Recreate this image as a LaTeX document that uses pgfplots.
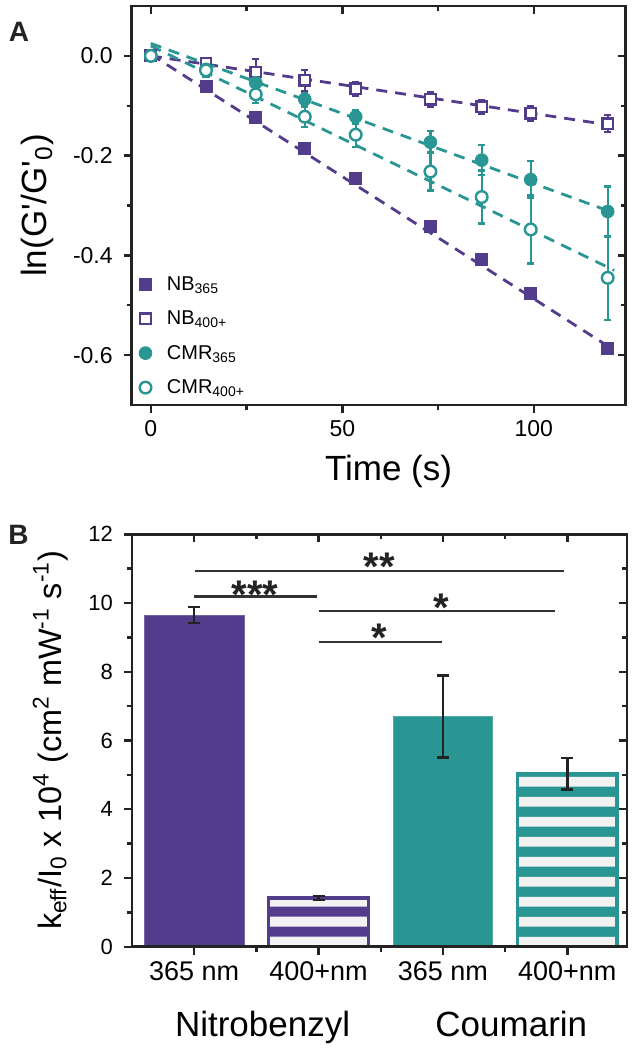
\documentclass[border=0pt]{standalone}
\usepackage{pgfplots}
\pgfplotsset{compat=1.18}
\usepackage{pgfplotstable}
\usepackage{fontspec}
\setmainfont{Liberation Sans}
\usetikzlibrary{patterns.meta}
\definecolor{nbp}{RGB}{84,60,140}
\definecolor{cmt}{RGB}{41,150,148}
\definecolor{axc}{RGB}{35,35,35}
\definecolor{stripe}{RGB}{242,242,242}
\definecolor{sig}{RGB}{50,50,50}

\tikzdeclarepattern{name=hstripes, type=uncolored,
  bottom left={(0pt,0pt)}, top right={(10pt,9.9pt)}, tile size={(10pt,9.9pt)},
  code={\fill (-1pt,2.15pt) rectangle (11pt,7.15pt);}}

% time (s), ln(G'/G'0), error
\pgfplotstableread{
x y e
0 0 0
14.4 -0.062 0.004
27.4 -0.124 0.004
40.2 -0.186 0.004
53.5 -0.246 0.004
73.0 -0.341 0.004
86.4 -0.408 0.004
99.2 -0.477 0.004
119.3 -0.587 0.004
}\nbA
\pgfplotstableread{
x y e
0 0 0
14.4 -0.014 0.010
27.4 -0.032 0.026
40.2 -0.049 0.021
53.5 -0.066 0.014
73.0 -0.087 0.015
86.4 -0.102 0.014
99.2 -0.115 0.015
119.3 -0.136 0.017
}\nbB
\pgfplotstableread{
x y e
0 0 0
14.4 -0.027 0.012
27.4 -0.054 0.012
40.2 -0.087 0.012
53.5 -0.122 0.014
73.0 -0.173 0.022
86.4 -0.209 0.030
99.2 -0.248 0.037
119.3 -0.312 0.050
}\cmA
\pgfplotstableread{
x y e
0 0 0
14.4 -0.029 0.012
27.4 -0.077 0.017
40.2 -0.122 0.020
53.5 -0.158 0.025
73.0 -0.232 0.038
86.4 -0.283 0.053
99.2 -0.348 0.068
119.3 -0.445 0.084
}\cmB
% bar chart: position, value, error
\pgfplotstableread{
x y e
1 9.65 0.23
}\barA
\pgfplotstableread{
x y e
2 1.42 0.06
}\barB
\pgfplotstableread{
x y e
3 6.70 1.19
}\barC
\pgfplotstableread{
x y e
4 5.03 0.46
}\barD

\pgfplotsset{
  common/.style={
    scale only axis,
    /pgf/number format/assume math mode=true,
    axis line style={line width=1.3pt, axc},
    tick style={line width=1.2pt, axc},
    major tick length=4pt, minor tick length=2.5pt,
  },
  inner/.style={common, xtick pos=right, ytick pos=right, tick align=inside,
    xticklabels={}, yticklabels={}},
  outer/.style={common, xtick pos=left, ytick pos=left, tick align=outside},
  fitline/.style={line width=1.4pt, dash pattern=on 5.5pt off 4pt, forget plot},
}

\begin{document}
\begin{tikzpicture}
\path[use as bounding box] (0,0) rectangle (318.5pt,-525pt);
% ---------------- panel A ----------------
\pgfplotsset{topax/.style={at={(65.85pt,-3pt)}, anchor=north west,
  width=247pt, height=199.5pt,
  xmin=-5, xmax=124, ymin=-0.7, ymax=0.1,
  xtick={0,50,100}, minor xtick={25,75},
  ytick={-0.6,-0.4,-0.2,0}, minor ytick={-0.5,-0.3,-0.1}}}
\begin{axis}[outer, topax,
  clip=false,
  tick label style={font=\fontsize{11.5}{13}\selectfont},
  yticklabel style={xshift=-2pt, /pgf/number format/.cd, fixed, fixed zerofill, precision=1},
  xlabel={Time (s)},
  xlabel style={font=\fontsize{17.5}{20}\selectfont, at={(axis description cs:0.52,-0.188)}, anchor=base},
  ylabel={ln(G\textquotesingle/G\textquotesingle\textsubscript{0})},
  ylabel style={font=\fontsize{17.5}{20}\selectfont, at={(axis description cs:-0.19,0.5)}, anchor=center},
  legend style={at={(axis description cs:0,0)}, anchor=south west, xshift=3.5pt, yshift=3pt,
    draw=none, fill=none, inner sep=0pt, row sep=6.25pt, column sep=6.5pt,
    font=\fontsize{10}{12}\selectfont,
    nodes={inner sep=1pt, text height=7.5pt, text depth=1.5pt}},
  legend cell align=left,
  legend image code/.code={\draw[mark repeat=2,mark phase=2,#1] plot coordinates {(0pt,0pt) (4pt,0pt) (8pt,0pt)};},
]
\addplot[nbp, fitline] coordinates {(0,0.003) (121,-0.59)};
\addplot[nbp, fitline] coordinates {(0,0.0) (121,-0.14)};
\addplot[cmt, fitline] coordinates {(0,0.025) (121,-0.315)};
\addplot[cmt, fitline] coordinates {(0,0.02) (121,-0.43)};
\addplot[only marks, nbp, mark=square*, mark size=3pt,
  error bars/.cd, y dir=both, y explicit,
  error bar style={line width=1.1pt, nbp},
  error mark options={rotate=90, mark size=1.8pt, line width=1.1pt, nbp}]
  table[x=x, y=y, y error=e] {\nbA};
\addlegendentry{NB\textsubscript{365}}
\addplot[only marks, nbp, mark=square*, mark size=2.6pt, mark options={fill=white, line width=1.1pt},
  error bars/.cd, y dir=both, y explicit,
  error bar style={line width=1.1pt, nbp},
  error mark options={rotate=90, mark size=1.8pt, line width=1.1pt, nbp}]
  table[x=x, y=y, y error=e] {\nbB};
\addlegendentry{NB\textsubscript{400+}}
\addplot[only marks, cmt, mark=*, mark size=3.2pt,
  error bars/.cd, y dir=both, y explicit,
  error bar style={line width=1.2pt, cmt},
  error mark options={rotate=90, mark size=1.8pt, line width=1.2pt, cmt}]
  table[x=x, y=y, y error=e] {\cmA};
\addlegendentry{CMR\textsubscript{365}}
\addplot[only marks, cmt, mark=*, mark size=2.9pt, mark options={fill=white, line width=1.2pt},
  error bars/.cd, y dir=both, y explicit,
  error bar style={line width=1.2pt, cmt},
  error mark options={rotate=90, mark size=1.8pt, line width=1.2pt, cmt}]
  table[x=x, y=y, y error=e] {\cmB};
\addlegendentry{CMR\textsubscript{400+}}
\end{axis}
\begin{axis}[inner, topax]
\end{axis}
% ---------------- panel B ----------------
\pgfplotsset{botax/.style={at={(66pt,-267.15pt)}, anchor=north west,
  width=247.5pt, height=206.2pt,
  xmin=0.5, xmax=4.48, ymin=0, ymax=12,
  xtick={1,2,3,4}, minor xtick={1.5,2.5,3.5},
  ytick={0,2,...,12}, minor ytick={1,3,...,11}}}
\begin{axis}[outer, botax,
  clip=false,
  xticklabels={365 nm, 400+nm, 365 nm, 400+nm},
  xticklabel style={font=\fontsize{13.5}{15}\selectfont},
  yticklabel style={font=\fontsize{11}{13}\selectfont, xshift=-2pt},
  ylabel={k\textsubscript{eff}/I\textsubscript{0} x 10\textsuperscript{4} (cm\textsuperscript{2} mW\textsuperscript{-1} s\textsuperscript{-1})},
  ylabel style={font=\fontsize{16.2}{18}\selectfont, at={(axis description cs:-0.165,0.5)}, anchor=center},
  ybar, bar width=0.8, bar shift=0pt,
]
\addplot[fill=nbp, draw=nbp!80!white, line width=0.4pt,
  error bars/.cd, y dir=both, y explicit,
  error bar style={line width=1.2pt, axc},
  error mark options={rotate=90, mark size=3pt, line width=1.2pt, axc}]
  table[x=x, y=y, y error=e] {\barA};
\addplot[draw=nbp, line width=1.6pt, preaction={fill=nbp}, pattern=hstripes, pattern color=stripe,
  error bars/.cd, y dir=both, y explicit,
  error bar style={line width=1.2pt, axc, solid},
  error mark options={rotate=90, mark size=3pt, line width=1.2pt, axc}]
  table[x=x, y=y, y error=e] {\barB};
\addplot[fill=cmt, draw=cmt!80!white, line width=0.4pt,
  error bars/.cd, y dir=both, y explicit,
  error bar style={line width=1.2pt, axc},
  error mark options={rotate=90, mark size=3pt, line width=1.2pt, axc}]
  table[x=x, y=y, y error=e] {\barC};
\addplot[draw=cmt, line width=1.6pt, preaction={fill=cmt}, pattern=hstripes, pattern color=stripe,
  error bars/.cd, y dir=both, y explicit,
  error bar style={line width=1.2pt, axc},
  error mark options={rotate=90, mark size=3pt, line width=1.2pt, axc}]
  table[x=x, y=y, y error=e] {\barD};
% significance brackets
\addplot[sharp plot, sig, line width=1.1pt, forget plot] coordinates {(1,10.19) (1.99,10.19)};
\addplot[sharp plot, sig, line width=1.1pt, forget plot] coordinates {(1.01,10.93) (3.97,10.93)};
\addplot[sharp plot, sig, line width=1.1pt, forget plot] coordinates {(2.0,9.77) (3.9,9.77)};
\addplot[sharp plot, sig, line width=1.1pt, forget plot] coordinates {(2.0,8.86) (2.99,8.86)};
\node[anchor=base, font=\fontsize{20}{20}\selectfont\bfseries, text=axc] at (axis cs:1.49,9.83) {***};
\node[anchor=base, font=\fontsize{20}{20}\selectfont\bfseries, text=axc] at (axis cs:2.49,10.66) {**};
\node[anchor=base, font=\fontsize{20}{20}\selectfont\bfseries, text=axc] at (axis cs:2.99,9.45) {*};
\node[anchor=base, font=\fontsize{20}{20}\selectfont\bfseries, text=axc] at (axis cs:2.49,8.60) {*};
\node[anchor=base, font=\fontsize{17.5}{20}\selectfont, yshift=-45pt] at (axis cs:1.55,0) {Nitrobenzyl};
\node[anchor=base, font=\fontsize{17.5}{20}\selectfont, yshift=-45pt] at (axis cs:3.55,0) {Coumarin};
\end{axis}
\begin{axis}[inner, botax]
\end{axis}
% panel letters
\node[font=\fontsize{14}{16}\selectfont\bfseries, text=axc] at (9.5pt,-16pt) {A};
\node[font=\fontsize{14}{16}\selectfont\bfseries, text=axc] at (9.25pt,-267.5pt) {B};
\end{tikzpicture}
\end{document}
